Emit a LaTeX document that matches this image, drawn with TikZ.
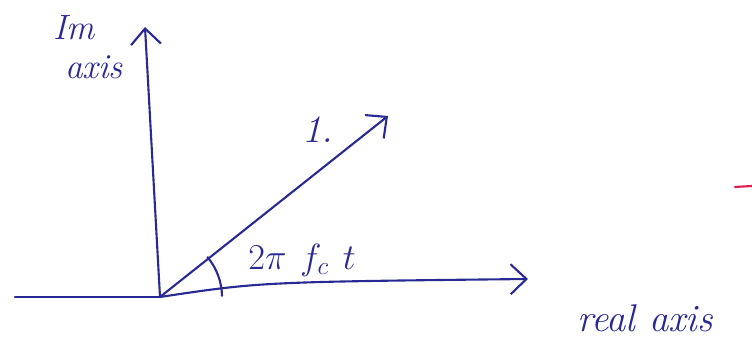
\documentclass[tikz,border=0pt]{standalone}
\usepackage{amssymb}
\usetikzlibrary{arrows.meta}
\definecolor{ink}{rgb}{0.16,0.16,0.58}
\definecolor{redink}{rgb}{0.86,0.12,0.32}
\pgfdeclarelayer{edgelayer}
\pgfdeclarelayer{nodelayer}
\pgfsetlayers{edgelayer,nodelayer,main}
\tikzstyle{edge}=[draw=ink, line width=1.2pt, line cap=round]
\tikzstyle{axisedge}=[draw=ink, line width=1.2pt, line cap=round, -{Straight Barb[length=9pt,width=17pt]}]
\tikzstyle{rededge}=[draw=redink, line width=1.2pt, line cap=round]
\tikzstyle{point}=[coordinate]
\tikzstyle{tag}=[text=ink, inner sep=0pt, font=\itshape\fontsize{22}{24}\selectfont]

\begin{document}
\begin{tikzpicture}[x=0.02cm, y=0.02cm]
						\useasboundingbox (0, 0) rectangle (752, 344);
						\begin{pgfonlayer}{nodelayer}
							\node [style=point] (o) at (160, 47) {};
							\node [style=point] (left) at (15, 47) {};
							\node [style=point] (imtip) at (145, 317) {};
							\node [style=point] (retip) at (528, 65) {};
							\node [style=point] (vtip) at (388, 228) {};
							\node [style=point] (dashl) at (735, 157) {};
							\node [style=point] (dashr) at (752, 158) {};
							\node [style=tag, font=\itshape\fontsize{20}{22}\selectfont] (im) at (74, 316) {Im};
							\node [style=tag, font=\itshape\fontsize{20}{22}\selectfont] (imaxis) at (94, 277) {axis};
							\node [style=tag] (one) at (318, 214) {1.};
							\node [style=tag] (angle) at (302, 84) {$2\pi\ f_c\ t$};
							\node [style=tag] (real) at (645, 26) {real axis};
						\end{pgfonlayer}
						\begin{pgfonlayer}{edgelayer}
							\draw [style=edge] (left) to (o);
							\draw [style=axisedge] (o) to (imtip);
							\draw [style=axisedge] (o) .. controls (260, 62) .. (retip);
							\draw [style=axisedge] (o) to (vtip);
							\draw [style=edge] ([shift={(1:62)}]o) arc (1:40:62);
							\draw [style=rededge] (dashl) to (dashr);
						\end{pgfonlayer}
					\end{tikzpicture}
\end{document}
